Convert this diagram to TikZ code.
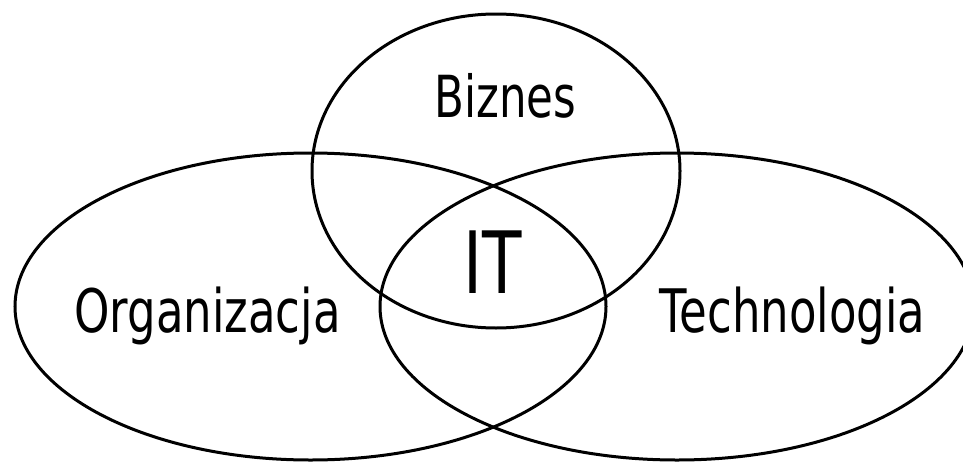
\documentclass[tikz,border=0pt]{standalone}
\usepackage{fontspec}
\setmainfont{DejaVu Sans}
\usepackage{graphicx}
\tikzset{
  setline/.style={draw=black, line width=3pt},
  setlabel/.style={inner sep=0pt, anchor=base, font=\fontsize{60}{60}\selectfont},
}
\newcommand{\squeezetext}[1]{\scalebox{0.75}[1]{#1}}
\begin{document}
\begin{tikzpicture}[x=1pt,y=-1pt]
  \useasboundingbox (0,0) rectangle (963,463);
  \clip (0,0) rectangle (963,463);
  \fill[white] (0,0) rectangle (963,463);
  % sets
  \draw[setline] (496,171) ellipse [x radius=184pt, y radius=157pt];
  \draw[setline] (310.5,306.5) ellipse [x radius=295.5pt, y radius=153.5pt];
  \draw[setline] (677,306.5) ellipse [x radius=297pt, y radius=153.5pt];
  % labels
  \node[setlabel, font=\fontsize{58}{58}\selectfont] (biz) at (505.5,117) {\squeezetext{Biznes}};
  \node[setlabel] (org) at (207.5,332) {\squeezetext{Organizacja}};
  \node[setlabel] (tech) at (792.5,332) {\squeezetext{Technologia}};
  \node[setlabel, font=\fontsize{86}{86}\selectfont] (it) at (493,293) {\squeezetext{IT}};
\end{tikzpicture}
\end{document}
